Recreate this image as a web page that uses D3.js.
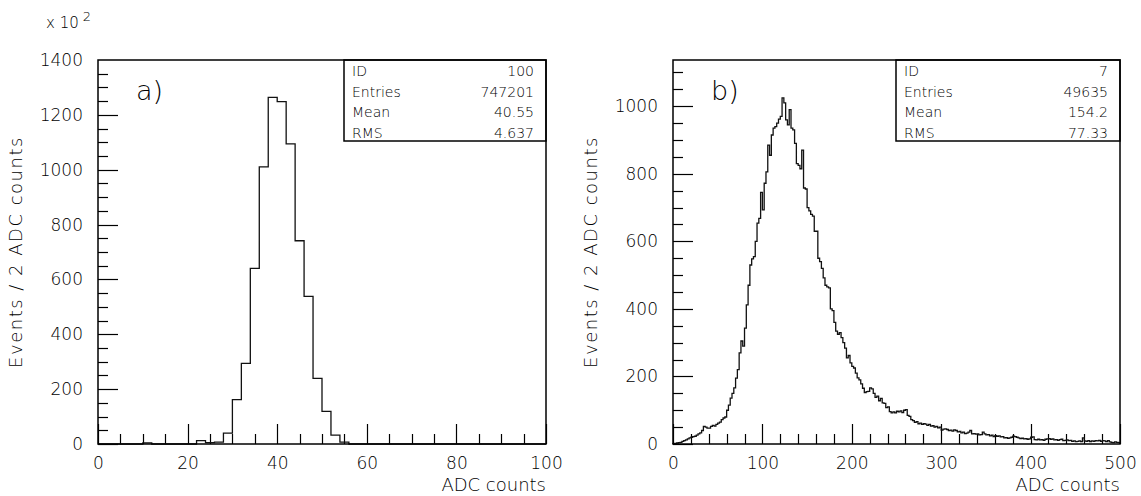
<!DOCTYPE html>
<html>
<head>
<meta charset="utf-8">
<script src="https://cdn.jsdelivr.net/npm/d3@7"></script>
<style>
  body { margin: 0; background: #fff; }
  text { font-family: "DejaVu Sans", sans-serif; font-weight: 200; fill: #000; }
</style>
</head>
<body>
<div id="chart"></div>
<script>
// histogram a) : 2 ADC bins from 0 to 100, contents in units of 10^2
var binsA = [
  0, 0, 0, 0, 0, 4, 0, 0, 0, 0,
  0, 12, 5, 7, 40, 162, 294, 640, 1010, 1264,
  1248, 1094, 741, 538, 239, 119, 32, 7, 0, 0,
  0, 0, 0, 0, 0, 0, 0, 0, 0, 0,
  0, 0, 0, 0, 0, 0, 0, 0, 0, 0
];

// histogram b) : 2 ADC bins from 0 to 500
var binsB = [
  1, 2, 3, 4, 5, 8, 10, 12, 15, 18,
  20, 22, 23, 26, 30, 33, 40, 52, 50, 47,
  47, 52, 55, 53, 58, 62, 65, 72, 77, 80,
  100, 115, 136, 150, 166, 195, 220, 270, 305, 290,
  343, 412, 470, 530, 548, 555, 600, 654, 668, 745,
  693, 772, 806, 885, 855, 915, 935, 940, 950, 962,
  970, 1025, 1010, 960, 945, 990, 935, 930, 890, 830,
  825, 815, 870, 758, 755, 700, 690, 680, 675, 630,
  630, 550, 540, 520, 492, 470, 465, 462, 400, 395,
  360, 334, 325, 330, 315, 300, 284, 255, 262, 240,
  230, 225, 210, 196, 190, 178, 165, 152, 155, 156,
  166, 163, 150, 138, 142, 128, 135, 122, 120, 108,
  110, 96, 92, 95, 92, 97, 95, 98, 93, 100,
  102, 85, 82, 72, 69, 64, 66, 60, 62, 58,
  60, 59, 55, 58, 53, 54, 50, 52, 48, 50,
  41, 44, 45, 43, 40, 41, 38, 42, 40, 36,
  37, 33, 35, 31, 32, 35, 40, 30, 31, 29,
  30, 27, 28, 35, 30, 27, 28, 24, 26, 22,
  25, 23, 24, 21, 22, 18, 19, 17, 18, 20,
  23, 22, 20, 18, 16, 17, 15, 16, 14, 15,
  20, 21, 13, 12, 14, 12, 13, 11, 14, 15,
  16, 14, 15, 12, 13, 11, 13, 14, 10, 11,
  12, 10, 11, 8, 9, 7, 8, 9, 7, 18,
  9, 8, 10, 7, 9, 8, 10, 9, 11, 8,
  10, 9, 7, 10, 6, 5, 4, 6, 5, 4
];

var statNames = ["ID", "Entries", "Mean", "RMS"];
var statsA = ["100", "747201", "40.55", "4.637"];
var statsB = ["7", "49635", "154.2", "77.33"];

var xMajorA = [0, 20, 40, 60, 80, 100];
var yMajorA = [0, 200, 400, 600, 800, 1000, 1200, 1400];
var xMajorB = [0, 100, 200, 300, 400, 500];
var yMajorB = [0, 200, 400, 600, 800, 1000];

var yLabel = "Events / 2 ADC counts";
var xLabel = "ADC counts";

var svgWidth = 1141;
var svgHeight = 496;

var svg = d3.select("#chart")
  .append("svg")
  .attr("width", svgWidth)
  .attr("height", svgHeight);

function drawPanel(p) {
  var x = d3.scaleLinear().domain(p.xDomain).range([p.left, p.right]);
  var y = d3.scaleLinear().domain(p.yDomain).range([p.bottom, p.top]);
  var g = svg.append("g");

  var xMinor = d3.range(p.xDomain[0], p.xDomain[1] + 0.001, p.xMinor);
  var yMinor = d3.range(0, p.yDomain[1], p.yMinor);

  // ticks pointing into the frame: long at labelled values, short otherwise
  g.selectAll("line.xt")
    .data(xMinor)
    .enter().append("line")
    .attr("class", "xt")
    .attr("x1", d => Math.round(x(d)) + 0.5)
    .attr("x2", d => Math.round(x(d)) + 0.5)
    .attr("y1", p.bottom)
    .attr("y2", d => p.bottom - (p.xMajor.indexOf(d) >= 0 ? 20 : 10))
    .attr("stroke", "#000")
    .attr("stroke-width", 1.2);

  g.selectAll("line.yt")
    .data(yMinor)
    .enter().append("line")
    .attr("class", "yt")
    .attr("y1", d => Math.round(y(d)) + 0.5)
    .attr("y2", d => Math.round(y(d)) + 0.5)
    .attr("x1", p.left)
    .attr("x2", d => p.left + (p.yMajor.indexOf(d) >= 0 ? 20 : 10))
    .attr("stroke", "#000")
    .attr("stroke-width", 1.2);

  // tick labels
  g.append("g")
    .attr("class", "xmaj")
    .attr("transform", `translate(0, ${p.bottom})`)
    .call(d3.axisBottom(x).tickValues(p.xMajor).tickSize(0).tickPadding(13).tickFormat(d3.format("d")));
  g.append("g")
    .attr("class", "ymaj")
    .attr("transform", `translate(${p.left}, 0)`)
    .call(d3.axisLeft(y).tickValues(p.yMajor).tickSize(0).tickPadding(15).tickFormat(d3.format("d")));

  g.selectAll(".domain").remove();
  g.selectAll(".tick line").remove();
  g.selectAll(".tick text").attr("font-size", 17).attr("fill", null);
  g.attr("font-family", null);

  // histogram outline
  var path = d3.path();
  path.moveTo(x(p.xDomain[0]), y(0));
  p.bins.forEach(function(v, i) {
    var x0 = p.xDomain[0] + i * 2;
    path.lineTo(x(x0), y(v));
    path.lineTo(x(x0 + 2), y(v));
  });
  path.lineTo(x(p.xDomain[1]), y(0));
  g.append("path")
    .attr("d", path.toString())
    .attr("fill", "none")
    .attr("stroke", "#111")
    .attr("stroke-width", 1.3);

  // frame
  g.append("rect")
    .attr("x", p.left).attr("y", p.top)
    .attr("width", p.right - p.left).attr("height", p.bottom - p.top)
    .attr("fill", "none").attr("stroke", "#000").attr("stroke-width", 1.5);

  // statistics box
  g.append("rect")
    .attr("x", p.boxLeft).attr("y", p.top)
    .attr("width", p.right - p.boxLeft).attr("height", 81)
    .attr("fill", "none").attr("stroke", "#000").attr("stroke-width", 1.5);
  statNames.forEach(function(name, i) {
    g.append("text")
      .attr("x", p.boxLeft + 8).attr("y", p.top + 16 + i * 20.5)
      .attr("font-size", 14).text(name);
    g.append("text")
      .attr("x", p.right - 12).attr("y", p.top + 16 + i * 20.5)
      .attr("font-size", 14).attr("text-anchor", "end").text(p.stats[i]);
  });

  // panel tag
  g.append("text")
    .attr("x", p.left + 38).attr("y", p.top + 40)
    .attr("font-size", 27).text(p.tag);

  // axis titles
  g.append("text")
    .attr("x", p.right).attr("y", p.bottom + 47)
    .attr("text-anchor", "end")
    .attr("font-size", 18).text(xLabel);
  g.append("text")
    .attr("transform", `translate(${p.left - 76}, ${(p.top + p.bottom) / 2}) rotate(-90)`)
    .attr("text-anchor", "middle")
    .attr("font-size", 18)
    .attr("letter-spacing", 1.5)
    .text(yLabel);
}

drawPanel({
  bins: binsA, xDomain: [0, 100], yDomain: [0, 1400],
  xMajor: xMajorA, xMinor: 5, yMajor: yMajorA, yMinor: 50,
  left: 98, right: 546, top: 60, bottom: 444,
  boxLeft: 344, stats: statsA, tag: "a)"
});

drawPanel({
  bins: binsB, xDomain: [0, 500], yDomain: [0, 1137],
  xMajor: xMajorB, xMinor: 20, yMajor: yMajorB, yMinor: 50,
  left: 673, right: 1120, top: 60, bottom: 444,
  boxLeft: 896, stats: statsB, tag: "b)"
});

// scale factor for panel a
var scaleNote = svg.append("text").attr("x", 46).attr("y", 28).attr("font-size", 15);
scaleNote.append("tspan").text("x 10");
scaleNote.append("tspan").attr("dx", 4).attr("dy", -7).attr("font-size", 13).text("2");
</script>
</body>
</html>
